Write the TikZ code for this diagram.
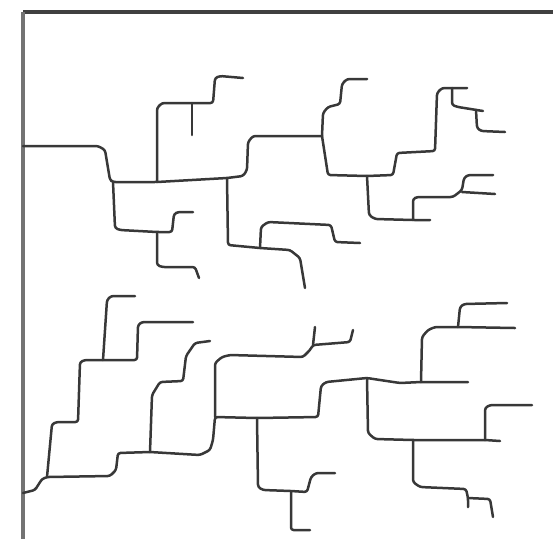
\documentclass[tikz,border=0pt]{standalone}
\begin{document}
\begin{tikzpicture}[x=1pt, y=-1pt,
  stream/.style={line width=2.5pt, black!78, rounded corners=2.5pt, line join=round, line cap=round},
  frame/.style={line width=3.5pt}]
  \useasboundingbox (0,0) rectangle (553,539);
  % frame
  \coordinate (corner) at (23,12);
  \draw[frame, black!75] (553,12) -- (corner);
  \draw[frame, black!55, line width=4pt] (corner) -- (23,539);
  % upper network: junctions
  \coordinate (ua) at (113,182);
  \coordinate (ub) at (157,182);
  \coordinate (uc) at (227,178);
  \coordinate (ud) at (322,136);
  \coordinate (ue) at (157,232);
  \coordinate (uf) at (260,248);
  \coordinate (ug) at (367,176);
  \coordinate (uh) at (413,220);
  \coordinate (ui) at (452,88);
  \coordinate (uj) at (192,103);
  \draw[stream] (23,146) -- (98,146) -- (105,150) -- (110,180) -- (ua) -- (ub) -- (uc) -- (243,176) -- (247,170)
    -- (248,142) -- (253,136) -- (ud);
  \draw[stream] (ub) -- (157,108) -- (162,103) -- (uj) -- (213,103) -- (215,78) -- (220,76) -- (243,78);
  \draw[stream] (uj) -- (192,135);
  \draw[stream] (ua) -- (115,228) -- (120,230) -- (ue) -- (172,232) -- (174,214) -- (178,212) -- (193,212);
  \draw[stream] (ue) -- (157,265) -- (162,267) -- (195,267) -- (199,278);
  \draw[stream] (uc) -- (228,245) -- (uf) -- (290,250) -- (300,258) -- (305,288);
  \draw[stream] (uf) -- (261,227) -- (268,222) -- (331,225) -- (335,242) -- (360,243);
  \draw[stream] (ud) -- (323,113) -- (328,107) -- (340,104) -- (342,84) -- (347,79) -- (367,79);
  \draw[stream] (ud) -- (328,175) -- (ug) -- (393,175) -- (397,153) -- (435,151) -- (437,93) -- (442,88) -- (ui)
    -- (467,88);
  \draw[stream] (ui) -- (452,105) -- (458,107) -- (483,111);
  \draw[stream] (476,110) -- (477,128) -- (481,131) -- (505,132);
  \draw[stream] (ug) -- (369,215) -- (375,219) -- (uh) -- (430,220);
  \draw[stream] (uh) -- (413,199) -- (417,197) -- (453,197) -- (462,190) -- (464,178) -- (468,175) -- (493,175);
  \draw[stream] (462,192) -- (495,194);
  % lower network: junctions
  \coordinate (la) at (47,477);
  \coordinate (lb) at (103,360);
  \coordinate (lc) at (150,452);
  \coordinate (ld) at (215,417);
  \coordinate (le) at (257,418);
  \coordinate (lf) at (313,345);
  \coordinate (lg) at (291,491);
  \coordinate (lh) at (367,378);
  \coordinate (li) at (421,382);
  \coordinate (lj) at (458,327);
  \coordinate (lk) at (413,440);
  \coordinate (ll) at (485,440);
  \coordinate (lm) at (468,498);
  \draw[stream] (23,493) -- (35,490) -- (42,479) -- (la) -- (110,476) -- (116,470) -- (118,453) -- (lc) -- (200,455)
    -- (210,450) -- (213,440) -- (ld) -- (le) -- (318,417) -- (321,386) -- (326,382) -- (lh) -- (380,380)
    -- (400,383) -- (li) -- (468,382);
  \draw[stream] (la) -- (52,424) -- (57,422) -- (78,422) -- (80,362) -- (85,360) -- (lb) -- (137,360) -- (138,325)
    -- (142,322) -- (193,322);
  \draw[stream] (lb) -- (107,300) -- (111,296) -- (135,296);
  \draw[stream] (lc) -- (152,395) -- (160,382) -- (183,381) -- (186,356) -- (195,343) -- (210,341);
  \draw[stream] (ld) -- (215,363) -- (222,357) -- (230,355) -- (303,357) -- (310,350) -- (lf) -- (350,342)
    -- (353,330);
  \draw[stream] (lf) -- (315,327);
  \draw[stream] (le) -- (258,487) -- (263,490) -- (lg) -- (307,492) -- (311,477) -- (316,473) -- (335,473);
  \draw[stream] (lg) -- (291,530) -- (310,530);
  \draw[stream] (li) -- (422,337) -- (428,330) -- (435,327) -- (lj) -- (515,328);
  \draw[stream] (lj) -- (460,307) -- (464,304) -- (507,303);
  \draw[stream] (lh) -- (368,433) -- (375,439) -- (lk) -- (ll) -- (500,441);
  \draw[stream] (ll) -- (485,408) -- (490,405) -- (532,405);
  \draw[stream] (lk) -- (413,482) -- (420,487) -- (466,489) -- (lm) -- (468,507);
  \draw[stream] (lm) -- (490,499) -- (493,517);
\end{tikzpicture}
\end{document}
